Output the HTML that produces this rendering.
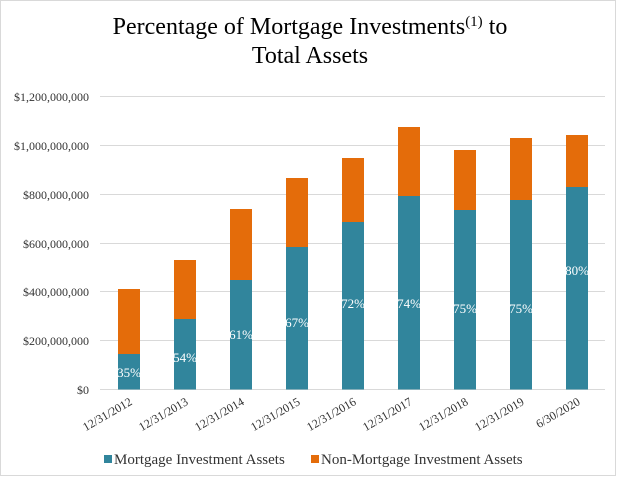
<!DOCTYPE html>
<html><head><meta charset="utf-8"><style>
body{margin:0;background:#fff}
svg{display:block;font-family:"Liberation Serif",serif}
</style></head><body>
<svg width="620" height="480" xmlns="http://www.w3.org/2000/svg">
<rect x="0.5" y="0.5" width="615" height="475" fill="#fff" stroke="#d9d9d9"/>
<text x="310" y="34" font-size="24" text-anchor="middle">Percentage of Mortgage Investments<tspan font-size="15" dy="-8">(1)</tspan><tspan dy="8"> to</tspan></text>
<text x="310" y="63" font-size="24" text-anchor="middle">Total Assets</text>
<g stroke="#d9d9d9" stroke-width="1">
<line x1="100" x2="605" y1="96.5" y2="96.5"/>
<line x1="100" x2="605" y1="145.5" y2="145.5"/>
<line x1="100" x2="605" y1="194.5" y2="194.5"/>
<line x1="100" x2="605" y1="243.5" y2="243.5"/>
<line x1="100" x2="605" y1="291.5" y2="291.5"/>
<line x1="100" x2="605" y1="340.5" y2="340.5"/>
<line x1="100" x2="605" y1="389.5" y2="389.5"/>
</g>
<g font-size="12" text-anchor="end" fill="#333">
<text x="89" y="101">$1,200,000,000</text>
<text x="89" y="150">$1,000,000,000</text>
<text x="89" y="199">$800,000,000</text>
<text x="89" y="248">$600,000,000</text>
<text x="89" y="296">$400,000,000</text>
<text x="89" y="345">$200,000,000</text>
<text x="89" y="394">$0</text>
</g>
<g id="bars">
<rect x="118" y="289" width="22" height="65" fill="#E46C0A"/><rect x="118" y="354" width="22" height="35.5" fill="#31859C"/>
<rect x="174" y="260" width="22" height="59" fill="#E46C0A"/><rect x="174" y="319" width="22" height="70.5" fill="#31859C"/>
<rect x="230" y="209" width="22" height="71" fill="#E46C0A"/><rect x="230" y="280" width="22" height="109.5" fill="#31859C"/>
<rect x="286" y="178" width="22" height="69" fill="#E46C0A"/><rect x="286" y="247" width="22" height="142.5" fill="#31859C"/>
<rect x="342" y="158" width="22" height="64" fill="#E46C0A"/><rect x="342" y="222" width="22" height="167.5" fill="#31859C"/>
<rect x="398" y="127" width="22" height="69" fill="#E46C0A"/><rect x="398" y="196" width="22" height="193.5" fill="#31859C"/>
<rect x="454" y="150" width="22" height="60" fill="#E46C0A"/><rect x="454" y="210" width="22" height="179.5" fill="#31859C"/>
<rect x="510" y="138" width="22" height="62" fill="#E46C0A"/><rect x="510" y="200" width="22" height="189.5" fill="#31859C"/>
<rect x="566" y="135" width="22" height="52" fill="#E46C0A"/><rect x="566" y="187" width="22" height="202.5" fill="#31859C"/>
</g>
<g font-size="13" fill="#fff" text-anchor="middle">
<text x="129" y="377">35%</text><text x="185" y="362">54%</text><text x="241" y="339">61%</text>
<text x="297" y="327">67%</text><text x="353" y="308">72%</text><text x="409" y="308">74%</text>
<text x="465" y="313">75%</text><text x="521" y="313">75%</text><text x="577" y="275">80%</text>
</g>
<g font-size="12" fill="#333" text-anchor="end">
<text transform="translate(133,404) rotate(-30)">12/31/2012</text>
<text transform="translate(189,404) rotate(-30)">12/31/2013</text>
<text transform="translate(245,404) rotate(-30)">12/31/2014</text>
<text transform="translate(301,404) rotate(-30)">12/31/2015</text>
<text transform="translate(357,404) rotate(-30)">12/31/2016</text>
<text transform="translate(413,404) rotate(-30)">12/31/2017</text>
<text transform="translate(469,404) rotate(-30)">12/31/2018</text>
<text transform="translate(525,404) rotate(-30)">12/31/2019</text>
<text transform="translate(581,404) rotate(-30)">6/30/2020</text>
</g>
<rect x="104" y="455" width="8" height="8" fill="#31859C"/>
<text x="114" y="464" font-size="15" fill="#333">Mortgage Investment Assets</text>
<rect x="311" y="455" width="8" height="8" fill="#E46C0A"/>
<text x="321" y="464" font-size="15" fill="#333">Non-Mortgage Investment Assets</text>
</svg>
</body></html>
